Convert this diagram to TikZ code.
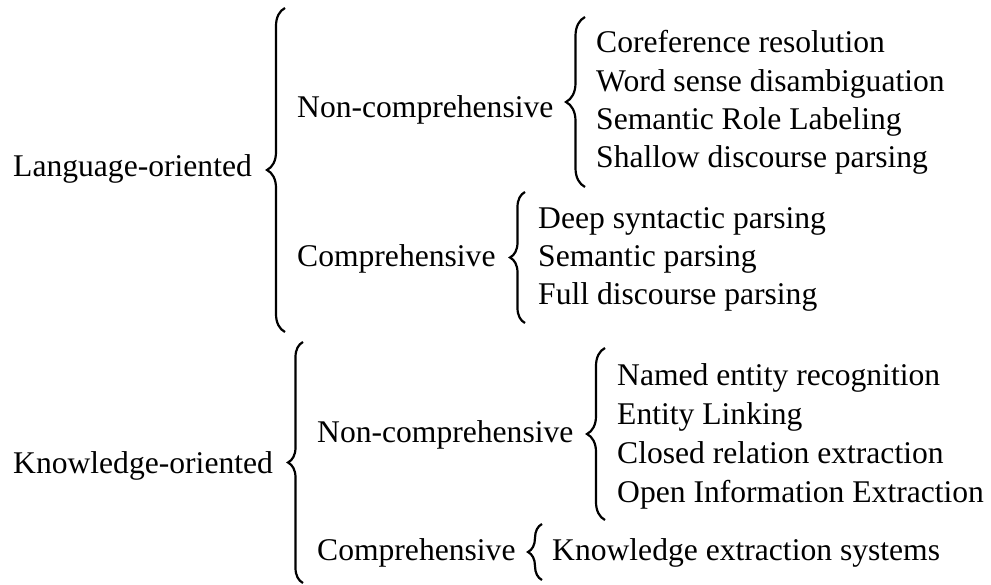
\documentclass[tikz,border=0pt]{standalone}
\usepackage{fontspec}
\setmainfont{Liberation Serif}
\usetikzlibrary{decorations.pathreplacing}
\begin{document}
\begin{tikzpicture}[x=1pt,y=-1pt,
  lbl/.style={anchor=base west,inner sep=0pt,font=\fontsize{31.6}{38}\selectfont},
  curly/.style={decorate,line width=2.2pt,decoration={brace,amplitude=#1}}]
\useasboundingbox (0,0) rectangle (991,585);
% top level
\node[lbl] (lang) at (13,177) {Language-oriented};
\node[lbl] (know) at (13,473) {Knowledge-oriented};
% second level
\node[lbl] (lnc) at (297,118) {Non-comprehensive};
\node[lbl] (lc)  at (297,267) {Comprehensive};
\node[lbl] (knc) at (317,442) {Non-comprehensive};
\node[lbl] (kc)  at (317,560) {Comprehensive};
% leaves
\node[lbl] (l1) at (596,53)  {Coreference resolution};
\node[lbl] (l2) at (596,92)  {Word sense disambiguation};
\node[lbl] (l3) at (596,130) {Semantic Role Labeling};
\node[lbl] (l4) at (596,168) {Shallow discourse parsing};
\node[lbl] (c1) at (538,229) {Deep syntactic parsing};
\node[lbl] (c2) at (538,267) {Semantic parsing};
\node[lbl] (c3) at (538,305) {Full discourse parsing};
\node[lbl] (k1) at (617,385) {Named entity recognition};
\node[lbl] (k2) at (617,424) {Entity Linking};
\node[lbl] (k3) at (617,463) {Closed relation extraction};
\node[lbl] (k4) at (617,502) {Open Information Extraction};
\node[lbl] (s1) at (552,560) {Knowledge extraction systems};
% brace end points
\coordinate (b1s) at (285,332); \coordinate (b1e) at (285,8);
\coordinate (b2s) at (585,187); \coordinate (b2e) at (585,17);
\coordinate (b3s) at (525,323); \coordinate (b3e) at (525,192);
\coordinate (b4s) at (303,583); \coordinate (b4e) at (303,342);
\coordinate (b5s) at (605,520); \coordinate (b5e) at (605,348);
\coordinate (b6s) at (542,580); \coordinate (b6e) at (542,524);
% braces
\draw[curly=18pt] (b1s) -- (b1e);
\draw[curly=19pt] (b2s) -- (b2e);
\draw[curly=15pt] (b3s) -- (b3e);
\draw[curly=15pt] (b4s) -- (b4e);
\draw[curly=18pt] (b5s) -- (b5e);
\draw[curly=14pt] (b6s) -- (b6e);
\end{tikzpicture}
\end{document}
